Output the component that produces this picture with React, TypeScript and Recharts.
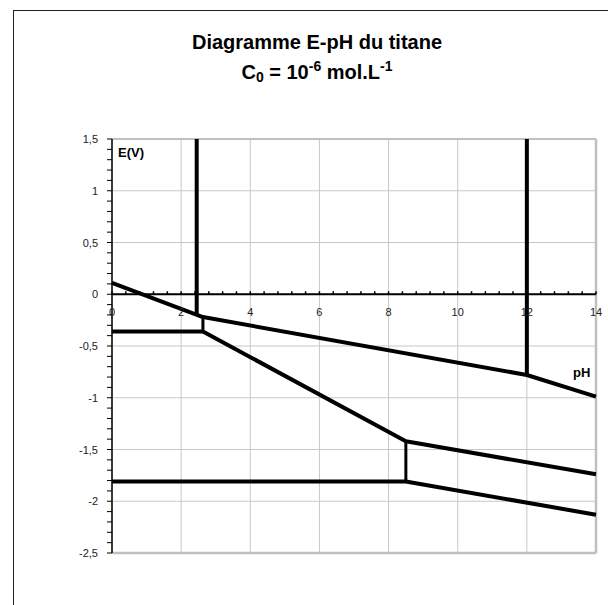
import { LineChart, Line, XAxis, YAxis, CartesianGrid, ReferenceLine, ReferenceDot } from "recharts"

// frontières du diagramme E-pH (pH, E en V)
const ti2Ti3Vert = [{ pH: 2.45, E: 1.5 }, { pH: 2.45, E: -0.19 }]
const upperBoundary = [
  { pH: 0, E: 0.11 },
  { pH: 2.63, E: -0.22 },
  { pH: 12, E: -0.78 },
  { pH: 14, E: -0.99 },
]
const vert12 = [{ pH: 12, E: 1.5 }, { pH: 12, E: -0.78 }]
const horiz036 = [{ pH: 0, E: -0.36 }, { pH: 2.63, E: -0.36 }]
const shortVert263 = [{ pH: 2.63, E: -0.22 }, { pH: 2.63, E: -0.36 }]
const middleBoundary = [
  { pH: 2.63, E: -0.36 },
  { pH: 8.5, E: -1.42 },
  { pH: 14, E: -1.74 },
]
const shortVert85 = [{ pH: 8.5, E: -1.42 }, { pH: 8.5, E: -1.81 }]
const lowerBoundary = [
  { pH: 0, E: -1.81 },
  { pH: 8.5, E: -1.81 },
  { pH: 14, E: -2.13 },
]

const xMajor = [0, 2, 4, 6, 8, 10, 12, 14]
const yMajor = [1.5, 1, 0.5, 0, -0.5, -1, -1.5, -2, -2.5]

const xMinor: number[] = []
for (let i = 0; i <= 35; i++) xMinor.push(Math.round(i * 4) / 10)
const yMinor: number[] = []
for (let i = -25; i <= 15; i++) yMinor.push(i / 10)

const FONT = "'Liberation Sans', Arial, sans-serif"

const fmt = (v: number) => String(v).replace(".", ",")

function YTick(props: any) {
  const { x, y, payload } = props
  const v = payload.value as number
  if (Math.abs(v * 2 - Math.round(v * 2)) > 1e-6) return <g />
  return (
    <text x={x} y={y + 4} textAnchor="end" fontSize={11} fontFamily={FONT} fill="#222">
      {fmt(v)}
    </text>
  )
}

const series = [
  { key: "a", data: ti2Ti3Vert, w: 4 },
  { key: "b", data: upperBoundary, w: 4 },
  { key: "c", data: vert12, w: 4 },
  { key: "d", data: horiz036, w: 4 },
  { key: "e", data: shortVert263, w: 3 },
  { key: "f", data: middleBoundary, w: 4 },
  { key: "g", data: shortVert85, w: 3 },
  { key: "h", data: lowerBoundary, w: 4 },
]

export default function App() {
  return (
    <div style={{ position: "absolute", left: 0, top: 0, width: 608, height: 605, overflow: "hidden", background: "#fff", fontFamily: FONT }}>
      <div style={{ position: "absolute", left: 13, top: 10, width: 700, height: 700, border: "1px solid #222" }} />
      <div style={{ position: "absolute", left: 17, width: 600, top: 30, textAlign: "center", fontSize: 20, fontWeight: "bold", lineHeight: "24px" }}>
        Diagramme E-pH du titane
      </div>
      <div style={{ position: "absolute", left: 17, width: 600, top: 60, textAlign: "center", fontSize: 20, fontWeight: "bold", lineHeight: "24px" }}>
        C<span style={{ fontSize: 14, position: "relative", top: 3 }}>0</span> = 10
        <span style={{ fontSize: 14, position: "relative", top: -8 }}>-6</span> mol.L
        <span style={{ fontSize: 14, position: "relative", top: -8 }}>-1</span>
      </div>
      <div style={{ position: "absolute", left: 0, top: 0 }}>
        <LineChart width={608} height={605} margin={{ top: 139, right: 12, bottom: 52, left: 0 }}>
          <CartesianGrid
            stroke="#c8c8c8"
            strokeWidth={1}
            horizontalValues={yMajor}
            verticalValues={xMajor}
          />
          <XAxis dataKey="pH" type="number" domain={[0, 14]} hide allowDuplicatedCategory={false} />
          <YAxis
            type="number"
            domain={[-2.5, 1.5]}
            ticks={yMinor}
            interval={0}
            width={112}
            tickSize={5}
            tickMargin={9}
            tick={<YTick />}
            axisLine={{ stroke: "#000", strokeWidth: 1.5 }}
            tickLine={{ stroke: "#000" }}
          />
          <ReferenceLine y={1.5} stroke="#c0c0c0" strokeWidth={2} />
          <ReferenceLine y={-2.5} stroke="#c0c0c0" strokeWidth={2.5} />
          <ReferenceLine x={14} stroke="#c0c0c0" strokeWidth={2.5} />
          <ReferenceLine y={0} stroke="#000" strokeWidth={2} />
          {xMinor.map((v) => (
            <ReferenceDot
              key={"m" + v}
              x={v}
              y={0}
              r={1}
              shape={(p: any) => (
                <line x1={p.cx} x2={p.cx} y1={p.cy - 3} y2={p.cy} stroke="#000" strokeWidth={1.5} />
              )}
            />
          ))}
          {xMajor.map((v) => (
            <ReferenceDot
              key={"l" + v}
              x={v}
              y={0}
              r={1}
              shape={(p: any) => (
                <text x={p.cx} y={p.cy + 22} textAnchor="middle" fontSize={11} fontFamily={FONT} fill="#222">
                  {v}
                </text>
              )}
            />
          ))}
          {series.map((s) => (
            <Line
              key={s.key}
              data={s.data}
              dataKey="E"
              type="linear"
              stroke="#000"
              strokeWidth={s.w}
              strokeLinejoin="round"
              dot={false}
              activeDot={false}
              isAnimationActive={false}
            />
          ))}
        </LineChart>
      </div>
      <div style={{ position: "absolute", left: 118, top: 146, fontSize: 13, fontWeight: "bold", lineHeight: "13px" }}>E(V)</div>
      <div style={{ position: "absolute", left: 573, top: 366, fontSize: 13, fontWeight: "bold", lineHeight: "13px" }}>pH</div>
    </div>
  )
}
